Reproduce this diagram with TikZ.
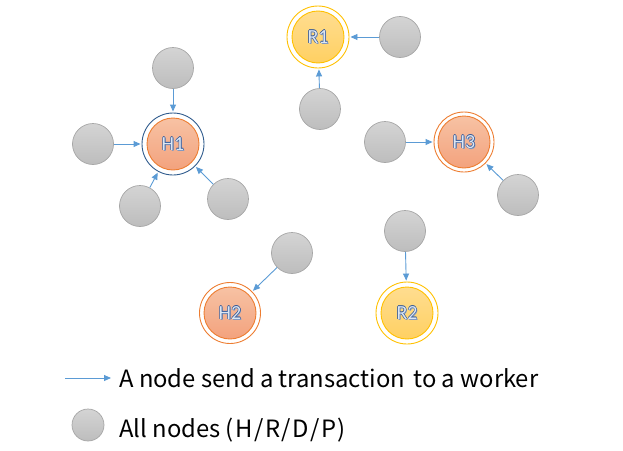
\documentclass[tikz,border=0pt]{standalone}
\usepackage{fontspec}
\setmainfont{Carlito}
\newfontfamily\jpfont{Noto Sans CJK JP}
\usetikzlibrary{arrows.meta,shadings}
\definecolor{arrowblue}{HTML}{5B9BD5}
\definecolor{graytop}{HTML}{D4D4D4}
\definecolor{graybot}{HTML}{BDBDBD}
\definecolor{grayedge}{HTML}{A6A6A6}
\definecolor{orgtop}{HTML}{F7C2A4}
\definecolor{orgbot}{HTML}{F3A27D}
\definecolor{orgedge}{HTML}{ED7D31}
\definecolor{goldtop}{HTML}{FFDD90}
\definecolor{goldbot}{HTML}{FFD062}
\definecolor{goldedge}{HTML}{FFC000}
\definecolor{ringblue}{HTML}{2E5A8C}
\definecolor{txtline}{HTML}{2F5597}
\definecolor{txtfill}{HTML}{DCE6F2}
\newcommand{\wordart}[1]{%
  \rlap{\kern0.9pt\lower0.9pt\hbox{\textcolor{txtline!60}{#1}}}%
  \rlap{\kern0.6pt\hbox{\textcolor{txtline}{#1}}}%
  \rlap{\kern-0.6pt\hbox{\textcolor{txtline}{#1}}}%
  \rlap{\raise0.6pt\hbox{\textcolor{txtline}{#1}}}%
  \rlap{\lower0.6pt\hbox{\textcolor{txtline}{#1}}}%
  \textcolor{txtfill}{#1}}
\newcommand{\sk}{\hspace{1.5pt}}
\tikzset{
  x=1pt, y=-1pt,
  graynode/.style={circle, minimum size=41pt, inner sep=0pt, draw=grayedge, line width=0.7pt, top color=graytop, bottom color=graybot},
  ringnode/.style={circle, minimum size=#1, inner sep=0pt, line width=0.9pt},
  hnode/.style={circle, minimum size=52pt, inner sep=0pt, draw=orgedge, line width=0.9pt, top color=orgtop, bottom color=orgbot, font=\fontsize{20}{20}\selectfont},
  rnode/.style={circle, minimum size=52pt, inner sep=0pt, draw=goldedge, line width=0.9pt, top color=goldtop, bottom color=goldbot, font=\fontsize{20}{20}\selectfont},
  sendarrow/.style={draw=arrowblue, line width=0.9pt, -{Triangle[length=7pt,width=6pt]}, shorten >=1pt},
  legendtext/.style={anchor=base west, inner sep=0pt, font=\jpfont\fontsize{23.8}{24}\selectfont}
}
\begin{document}
\begin{tikzpicture}
\useasboundingbox (0,0) rectangle (623,450);
% rings
\node[ringnode=62pt, draw=ringblue] (H1r) at (173,144) {};
\node[ringnode=62pt, draw=goldedge] (R1r) at (318,37) {};
\node[ringnode=60pt, draw=orgedge] (H3r) at (464,142) {};
\node[ringnode=62pt, draw=goldedge] (R2r) at (407,313) {};
\node[ringnode=61pt, draw=orgedge] (H2r) at (230,313) {};
% main nodes
\node[hnode] (H1) at (173,144) {\wordart{H1}};
\node[rnode] (R1) at (318,37) {\wordart{R1}};
\node[hnode] (H3) at (464,142) {\wordart{H3}};
\node[rnode] (R2) at (407,313) {\wordart{R2}};
\node[hnode] (H2) at (230,313) {\wordart{H2}};
% gray nodes
\node[graynode] (g1) at (173,68) {};
\node[graynode] (g2) at (93,144) {};
\node[graynode] (g3) at (140,206) {};
\node[graynode] (g4) at (228,199) {};
\node[graynode] (g5) at (400,37) {};
\node[graynode] (g6) at (320,109) {};
\node[graynode] (g7) at (385,142) {};
\node[graynode] (g8) at (518,195) {};
\node[graynode] (g9) at (405,231) {};
\node[graynode] (g10) at (292,253) {};
% arrows
\draw[sendarrow] (g1) -- (H1r);
\draw[sendarrow] (g2) -- (H1r);
\draw[sendarrow] (g3) -- (H1r);
\draw[sendarrow] (g4) -- (H1r);
\draw[sendarrow] (g5) -- (R1r);
\draw[sendarrow] (g6) -- (R1r);
\draw[sendarrow] (g7) -- (H3r);
\draw[sendarrow] (g8) -- (H3r);
\draw[sendarrow] (g9) -- (R2r);
\draw[sendarrow] (g10) -- (H2r);
% legend
\coordinate (la) at (65,378);
\coordinate (lb) at (111,378);
\draw[sendarrow, shorten >=0pt] (la) -- (lb);
\node[legendtext] (t1) at (119,387) {A node send a transaction\hspace{3pt} to a worker};
\node[graynode, minimum size=32pt] (lg) at (88,425) {};
\node[legendtext] (t2) at (119,437) {All nodes (\sk H\sk/\sk R\sk/\sk D\sk/\sk P\sk)};
\end{tikzpicture}
\end{document}
